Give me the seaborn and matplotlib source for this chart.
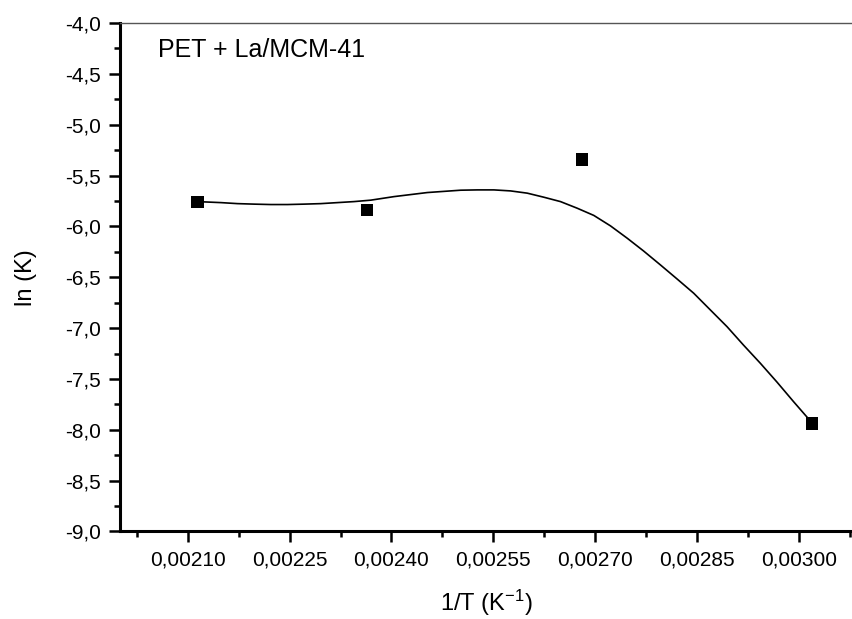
import matplotlib
matplotlib.use('Agg')
import matplotlib.pyplot as plt
from matplotlib.ticker import FuncFormatter
import seaborn as sns
import pandas as pd

# measured points
inv_T = [0.002114, 0.002364, 0.002681, 0.003020]
ln_K = [-5.762, -5.836, -5.343, -7.937]

# smooth curve
curve_x = [0.002114, 0.002124, 0.0021486, 0.0021732, 0.0021976, 0.0022222,
           0.0022468, 0.0022712, 0.0022958, 0.0023204, 0.0023448, 0.0023694,
           0.0024037, 0.0024528, 0.0025019, 0.0025265, 0.0025509, 0.0025755,
           0.0026000, 0.0026245, 0.002649, 0.0026736, 0.0026981, 0.0027227,
           0.0027473, 0.0027713, 0.0027963, 0.0028208, 0.0028453, 0.0028699,
           0.0028944, 0.0029185, 0.0029435, 0.002968, 0.0029925, 0.0030203]
curve_y = [-5.762, -5.759, -5.766, -5.776, -5.781, -5.785,
           -5.785, -5.781, -5.776, -5.766, -5.756, -5.742,
           -5.707, -5.667, -5.644, -5.641, -5.641, -5.651,
           -5.673, -5.713, -5.756, -5.821, -5.892, -5.995,
           -6.116, -6.241, -6.379, -6.517, -6.657, -6.822,
           -6.986, -7.166, -7.346, -7.531, -7.724, -7.937]

x_major = [0.00210, 0.00225, 0.00240, 0.00255, 0.00270, 0.00285, 0.00300]
x_minor = [0.002025, 0.002175, 0.002325, 0.002475, 0.002625, 0.002775,
           0.002925, 0.003075]
y_major = [-9.0, -8.5, -8.0, -7.5, -7.0, -6.5, -6.0, -5.5, -5.0, -4.5, -4.0]
y_minor = [-8.75, -8.25, -7.75, -7.25, -6.75, -6.25, -5.75, -5.25, -4.75, -4.25]

pts = pd.DataFrame({'x': inv_T, 'y': ln_K})
fit = pd.DataFrame({'x': curve_x, 'y': curve_y})

sns.set_style('ticks')
plt.rcParams['font.family'] = ['Liberation Sans', 'DejaVu Sans']
plt.rcParams['mathtext.default'] = 'regular'
plt.rcParams['text.color'] = 'black'
plt.rcParams['axes.labelcolor'] = 'black'

fig = plt.figure(figsize=(8.53, 6.19), dpi=100)
ax = fig.add_axes([0.1407, 0.1414, 0.8593, 0.8214])

sns.lineplot(data=fit, x='x', y='y', sort=False, color='black', lw=1.2, ax=ax)
sns.scatterplot(data=pts, x='x', y='y', marker='s', s=80, color='black',
                edgecolor='none', ax=ax, zorder=3)

ax.set_xlim(0.0020, 0.00308)
ax.set_ylim(-9.0, -4.0)

ax.set_xticks(x_major)
ax.set_xticks(x_minor, minor=True)
ax.set_yticks(y_major)
ax.set_yticks(y_minor, minor=True)
ax.xaxis.set_major_formatter(FuncFormatter(lambda v, p: f'{v:.5f}'.replace('.', ',')))
ax.yaxis.set_major_formatter(FuncFormatter(lambda v, p: f'{v:.1f}'.replace('.', ',')))

ax.tick_params(axis='both', which='major', direction='out', length=8, width=1.8,
               labelsize=15, colors='black', pad=6)
ax.tick_params(axis='both', which='minor', direction='out', length=4.5, width=1.8,
               colors='black')

for s in ['left', 'bottom']:
    ax.spines[s].set_linewidth(2.2)
    ax.spines[s].set_color('black')
ax.spines['top'].set_linewidth(1.0)
ax.spines['top'].set_color('#555555')
ax.spines['right'].set_visible(False)

ax.set_xlabel('1/T (K$^{-1}$)', fontsize=17, color='black')
ax.set_ylabel('ln (K)', fontsize=17, color='black')
ax.xaxis.set_label_coords(0.5, -0.11)
ax.yaxis.set_label_coords(-0.113, 0.5)

ax.text(0.052, 0.933, 'PET + La/MCM-41', transform=ax.transAxes,
        fontsize=18, va='baseline', ha='left', color='black')

fig.savefig('out.png', dpi=100)
